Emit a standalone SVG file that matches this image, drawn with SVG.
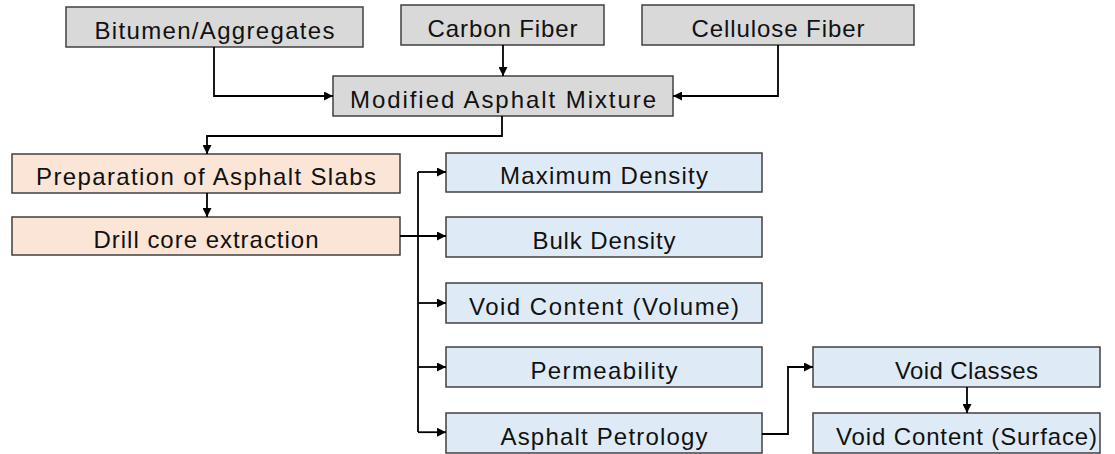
<svg xmlns="http://www.w3.org/2000/svg" width="1115" height="454" viewBox="0 0 1115 454">
  <style>
    .box { stroke: #404040; stroke-width: 1.5; }
    .grey { fill: #d9d9d9; }
    .peach { fill: #fbe5d6; }
    .blue { fill: #deebf7; }
    .lbl { font-family: "Liberation Sans", Arial, sans-serif; font-size: 24px; fill: #111; text-anchor: middle; }
    .wire { fill: none; stroke: #000; stroke-width: 1.8; marker-end: url(#arr); }
  </style>
  <defs>
    <marker id="arr" viewBox="0 0 10 10" refX="10" refY="5" markerWidth="9" markerHeight="9" markerUnits="userSpaceOnUse" orient="auto">
      <path d="M0,0 L10,5 L0,10 Z" fill="#000"/>
    </marker>
  </defs>

  <rect width="1115" height="454" fill="#fff"/>

  <!-- inputs -->
  <g id="bitumen">
    <rect class="box grey" x="66" y="7" width="297" height="40"/>
    <text class="lbl" x="214.5" y="39" textLength="240" lengthAdjust="spacing">Bitumen/Aggregates</text>
  </g>
  <g id="carbon">
    <rect class="box grey" x="401" y="5" width="203" height="40"/>
    <text class="lbl" x="502.5" y="37" textLength="150" lengthAdjust="spacing">Carbon Fiber</text>
  </g>
  <g id="cellulose">
    <rect class="box grey" x="642" y="5" width="272" height="40"/>
    <text class="lbl" x="778" y="37" textLength="173" lengthAdjust="spacing">Cellulose Fiber</text>
  </g>
  <g id="mixture">
    <rect class="box grey" x="333" y="76" width="340" height="40"/>
    <text class="lbl" x="503" y="108" textLength="306" lengthAdjust="spacing">Modified Asphalt Mixture</text>
  </g>

  <!-- preparation steps -->
  <g id="slabs">
    <rect class="box peach" x="12" y="154" width="388" height="39"/>
    <text class="lbl" x="206" y="185" textLength="340" lengthAdjust="spacing">Preparation of Asphalt Slabs</text>
  </g>
  <g id="drill">
    <rect class="box peach" x="12" y="217" width="388" height="38"/>
    <text class="lbl" x="206" y="248" textLength="225" lengthAdjust="spacing">Drill core extraction</text>
  </g>

  <!-- tests -->
  <g id="max-density">
    <rect class="box blue" x="446" y="153" width="316" height="39"/>
    <text class="lbl" x="604" y="184" textLength="208" lengthAdjust="spacing">Maximum Density</text>
  </g>
  <g id="bulk-density">
    <rect class="box blue" x="446" y="217" width="316" height="40"/>
    <text class="lbl" x="604" y="249" textLength="143" lengthAdjust="spacing">Bulk Density</text>
  </g>
  <g id="void-volume">
    <rect class="box blue" x="446" y="283" width="316" height="40"/>
    <text class="lbl" x="604" y="315" textLength="270" lengthAdjust="spacing">Void Content (Volume)</text>
  </g>
  <g id="permeability">
    <rect class="box blue" x="446" y="347" width="316" height="40"/>
    <text class="lbl" x="604" y="379" textLength="147" lengthAdjust="spacing">Permeability</text>
  </g>
  <g id="petrology">
    <rect class="box blue" x="446" y="413" width="316" height="40"/>
    <text class="lbl" x="604" y="445" textLength="207" lengthAdjust="spacing">Asphalt Petrology</text>
  </g>
  <g id="void-classes">
    <rect class="box blue" x="813" y="347" width="287" height="40"/>
    <text class="lbl" x="966.5" y="379" textLength="143" lengthAdjust="spacing">Void Classes</text>
  </g>
  <g id="void-surface">
    <rect class="box blue" x="813" y="413" width="287" height="40"/>
    <text class="lbl" x="966.5" y="445" textLength="261" lengthAdjust="spacing">Void Content (Surface)</text>
  </g>

  <!-- connectors -->
  <g id="connectors">
    <path class="wire" d="M214,47 V96 H333"/>
    <path class="wire" d="M503,45 V76"/>
    <path class="wire" d="M778,45 V96 H673"/>
    <path class="wire" d="M502,116 V136 H207 V154"/>
    <path class="wire" d="M207,193 V217"/>
    <path class="wire" d="M400,236 H446"/>
    <path fill="none" stroke="#000" stroke-width="1.8" d="M418,172 V432"/>
    <path class="wire" d="M418,172 H446"/>
    <path class="wire" d="M418,303 H446"/>
    <path class="wire" d="M418,367 H446"/>
    <path class="wire" d="M418,432.2 H446"/>
    <path class="wire" d="M762,434 H788 V367 H813"/>
    <path class="wire" d="M967,387 V413"/>
  </g>
</svg>
